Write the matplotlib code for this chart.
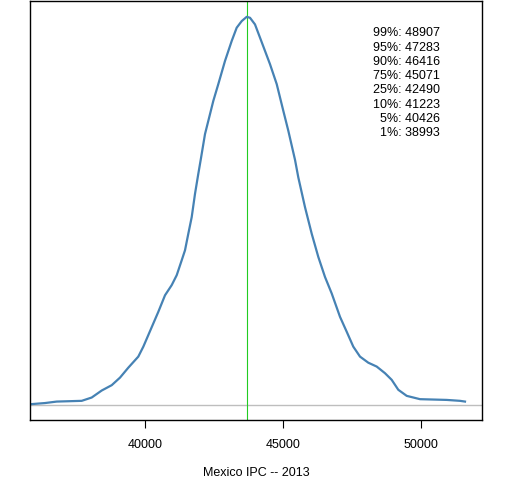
import matplotlib
matplotlib.use('Agg')
import matplotlib.pyplot as plt
import numpy as np

plt.rcParams['font.family'] = ['Liberation Sans', 'DejaVu Sans']

# courbe de densité (indice IPC, densité x1e-5)
ipc = [35859, 36366, 36790, 37696, 38058, 38420, 38783, 39083, 39384, 39746,
       39928, 40109, 40290, 40471, 40714, 40956, 41138, 41319, 41438, 41558,
       41681, 41801, 41920, 42007, 42163, 42344, 42464, 42645, 42888, 43130,
       43311, 43493, 43674, 43793, 43974, 44156, 44337, 44518, 44761, 45000,
       45181, 45424, 45543, 45786, 46029, 46268, 46511, 46753, 47054, 47297,
       47536, 47779, 48079, 48384, 48684, 48927, 49166, 49471, 49953, 50920,
       51402, 51583]
densite = [0.02, 0.08, 0.16, 0.20, 0.38, 0.76, 1.05, 1.46, 2.00, 2.60,
           3.14, 3.77, 4.40, 5.03, 5.93, 6.48, 7.02, 7.83, 8.37, 9.27,
           10.17, 11.44, 12.52, 13.28, 14.68, 15.76, 16.48, 17.39, 18.65, 19.73,
           20.45, 20.81, 21.04, 20.99, 20.63, 19.91, 19.19, 18.47, 17.39, 15.94,
           14.86, 13.28, 12.33, 10.71, 9.27, 8.01, 6.92, 6.03, 4.76, 3.95,
           3.14, 2.60, 2.27, 2.06, 1.70, 1.34, 0.80, 0.47, 0.29, 0.25,
           0.20, 0.16]

mediane = 43700

niveaux = ['99%', '95%', '90%', '75%', '25%', '10%', '5%', '1%']
quantiles = [48907, 47283, 46416, 45071, 42490, 41223, 40426, 38993]

fig = plt.figure(figsize=(5.12, 4.8), dpi=100)
ax = fig.add_axes([30 / 512, 60 / 480, 452 / 512, 419 / 480])

ax.axhline(0, color='#BEBEBE', lw=1)
ax.axvline(mediane, color='#22CC22', lw=0.8)
ax.plot(ipc, densite, color='#4682B4', lw=1.6)

ax.set_xlim(35822, 52199)
ax.set_ylim(-0.84, 21.9)
ax.set_xticks([40000, 45000, 50000])
ax.set_yticks([])
ax.tick_params(axis='x', length=6, width=0.8, pad=8, labelsize=9)
for s in ax.spines.values():
    s.set_color('black')
    s.set_linewidth(1)

ax.set_xlabel('Mexico IPC -- 2013', fontsize=9, labelpad=11)

for i, (n, q) in enumerate(zip(niveaux, quantiles)):
    ax.text(0.907, 0.923 - i * 0.0341, f'{n}: {q}', transform=ax.transAxes,
            ha='right', va='center', fontsize=9)

fig.savefig('out.png', dpi=100)
